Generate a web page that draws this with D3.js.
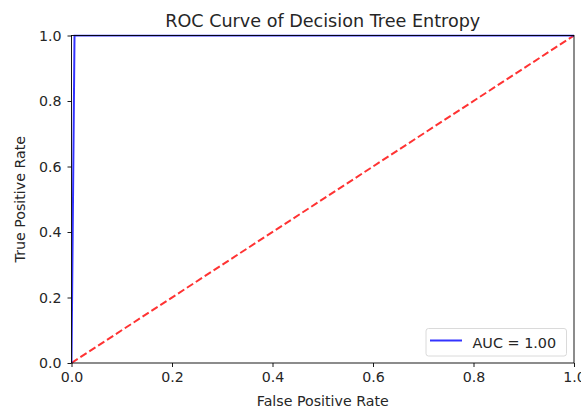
<!DOCTYPE html>
<html>
<head>
<meta charset="utf-8">
<script src="https://cdn.jsdelivr.net/npm/d3@7"></script>
<style>
  html, body { margin: 0; padding: 0; background: #fff; }
  svg { display: block; font-family: "DejaVu Sans", sans-serif; }
</style>
</head>
<body>
<svg id="chart" width="581" height="409"></svg>
<script>
// ROC curve points
const fpr = [0, 0.006, 1];
const tpr = [0, 1, 1];
// Chance diagonal
const diagX = [0, 1];
const diagY = [0, 1];
const tickValues = [0, 0.2, 0.4, 0.6, 0.8, 1.0];
const aucLabel = "AUC = 1.00";

const svg = d3.select("#chart");
const m = { left: 71.5, right: 7, top: 35.5, bottom: 46 };
const W = 581, H = 409;

const x = d3.scaleLinear().domain([0, 1]).range([m.left, W - m.right]);
const y = d3.scaleLinear().domain([0, 1]).range([H - m.bottom, m.top]);

svg.append("clipPath").attr("id", "plotclip")
  .append("rect")
  .attr("x", m.left).attr("y", m.top - 1)
  .attr("width", x(1) - m.left).attr("height", y(0) - m.top + 2);

const plot = svg.append("g").attr("clip-path", "url(#plotclip)");

const line = d3.line().x(d => x(d[0])).y(d => y(d[1]));

plot.append("path")
  .datum(diagX.map((v, i) => [v, diagY[i]]))
  .attr("d", line)
  .attr("fill", "none")
  .attr("stroke", "red")
  .attr("stroke-opacity", 0.8)
  .attr("stroke-width", 2)
  .attr("stroke-dasharray", "7.4,3.2");

plot.append("path")
  .datum(fpr.map((v, i) => [v, tpr[i]]))
  .attr("d", line)
  .attr("fill", "none")
  .attr("stroke", "blue")
  .attr("stroke-opacity", 0.8)
  .attr("stroke-width", 2);

// Axes
const fmt = d3.format(".1f");
const xAxis = svg.append("g")
  .attr("transform", `translate(0,${y(0)})`)
  .call(d3.axisBottom(x).tickValues(tickValues).tickFormat(fmt).tickSize(4).tickPadding(4.5));
const yAxis = svg.append("g")
  .attr("transform", `translate(${x(0)},0)`)
  .call(d3.axisLeft(y).tickValues(tickValues).tickFormat(fmt).tickSize(4).tickPadding(6));

[xAxis, yAxis].forEach(a => {
  a.select(".domain").remove();
  a.selectAll(".tick line").attr("stroke", "#000").attr("stroke-width", 0.9);
  a.selectAll(".tick text")
    .attr("fill", "#262626")
    .style("font-family", "DejaVu Sans, sans-serif")
    .style("font-size", "14.2px");
});

// Frame
svg.append("rect")
  .attr("x", x(0)).attr("y", y(1))
  .attr("width", x(1) - x(0)).attr("height", y(0) - y(1))
  .attr("fill", "none")
  .attr("stroke", "#000")
  .attr("stroke-width", 0.9);

// Title and axis labels
svg.append("text")
  .attr("x", (x(0) + x(1)) / 2).attr("y", 27)
  .attr("text-anchor", "middle")
  .attr("fill", "#262626")
  .style("font-size", "17.6px")
  .text("ROC Curve of Decision Tree Entropy");

svg.append("text")
  .attr("x", (x(0) + x(1)) / 2).attr("y", 406)
  .attr("text-anchor", "middle")
  .attr("fill", "#262626")
  .style("font-size", "14.2px")
  .text("False Positive Rate");

svg.append("text")
  .attr("transform", `translate(25,${(y(0) + y(1)) / 2}) rotate(-90)`)
  .attr("text-anchor", "middle")
  .attr("fill", "#262626")
  .style("font-size", "14.2px")
  .text("True Positive Rate");

// Legend
const lg = svg.append("g");
lg.append("rect")
  .attr("x", 426).attr("y", 328.5)
  .attr("width", 140.5).attr("height", 27.5)
  .attr("rx", 2.5)
  .attr("fill", "#fff")
  .attr("fill-opacity", 0.8)
  .attr("stroke", "#d6d6d6")
  .attr("stroke-width", 0.9);
lg.append("line")
  .attr("x1", 430).attr("x2", 462)
  .attr("y1", 340.5).attr("y2", 340.5)
  .attr("stroke", "blue").attr("stroke-opacity", 0.8)
  .attr("stroke-width", 2);
lg.append("text")
  .attr("x", 472.5).attr("y", 347.5)
  .attr("fill", "#262626")
  .style("font-size", "14.4px")
  .text(aucLabel);
</script>
</body>
</html>
